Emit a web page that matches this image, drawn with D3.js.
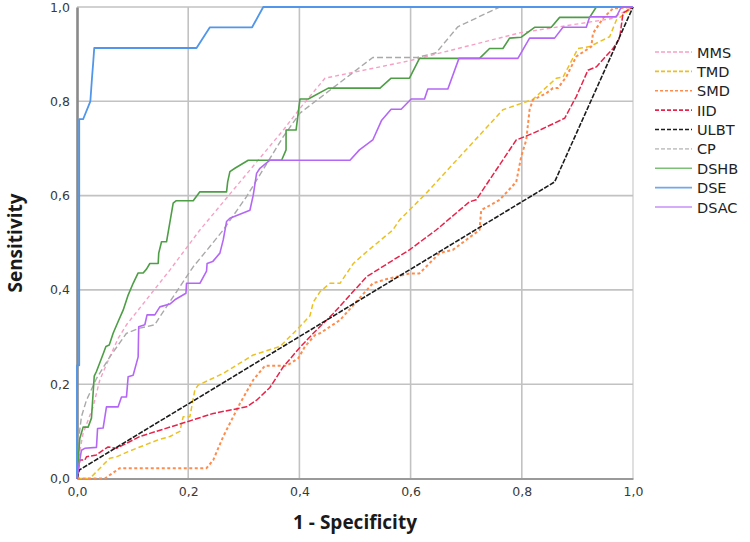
<!DOCTYPE html>
<html><head><meta charset="utf-8">
<script src="https://cdn.jsdelivr.net/npm/d3@7"></script>
<style>
html,body{margin:0;padding:0;background:#fff;}
svg{display:block;}
</style></head>
<body>
<svg id="chart" width="750" height="542"></svg>
<script>
// ---- Data (1 - Specificity, Sensitivity) ----
const seriesNames = ["MMS","TMD","SMD","IID","ULBT","CP","DSHB","DSE","DSAC"];
const xTicks = [0,0.2,0.4,0.6,0.8,1.0];
const yTicks = [0,0.2,0.4,0.6,0.8,1.0];

const MMS = [[0,0],[0.002,0.039],[0.011,0.096],[0.029,0.152],[0.041,0.209],[0.059,0.258],[0.074,0.297],[0.089,0.326],[0.167,0.442],[0.221,0.527],[0.371,0.739],[0.401,0.785],[0.446,0.849],[0.598,0.886],[0.796,0.945],[0.96,0.975],[1,1]];
const TMD = [[0,0],[0.023,0],[0.038,0.018],[0.059,0.043],[0.071,0.046],[0.092,0.057],[0.146,0.082],[0.167,0.089],[0.185,0.100],[0.191,0.131],[0.203,0.131],[0.212,0.188],[0.218,0.198],[0.263,0.223],[0.317,0.262],[0.365,0.280],[0.395,0.315],[0.419,0.345],[0.425,0.374],[0.437,0.396],[0.455,0.414],[0.473,0.414],[0.497,0.456],[0.521,0.481],[0.568,0.527],[0.580,0.548],[0.628,0.605],[0.766,0.782],[0.820,0.804],[0.862,0.849],[0.874,0.851],[0.901,0.912],[0.922,0.916],[0.958,0.937],[0.970,0.972],[1,1]];
const SMD = [[0,0],[0.050,0],[0.077,0.022],[0.233,0.022],[0.245,0.039],[0.263,0.089],[0.293,0.159],[0.317,0.209],[0.338,0.239],[0.377,0.239],[0.398,0.255],[0.410,0.280],[0.428,0.304],[0.437,0.308],[0.473,0.336],[0.532,0.414],[0.551,0.421],[0.598,0.435],[0.616,0.435],[0.652,0.478],[0.676,0.485],[0.724,0.527],[0.727,0.569],[0.760,0.591],[0.790,0.629],[0.799,0.683],[0.808,0.718],[0.814,0.782],[0.820,0.803],[0.844,0.817],[0.856,0.828],[0.865,0.828],[0.880,0.852],[0.898,0.895],[0.925,0.916],[0.928,0.944],[0.946,0.976],[0.964,0.997],[1,1]];
const IID = [[0,0],[0.005,0.039],[0.014,0.039],[0.017,0.046],[0.035,0.050],[0.047,0.060],[0.056,0.067],[0.071,0.064],[0.113,0.089],[0.197,0.120],[0.245,0.138],[0.305,0.152],[0.323,0.166],[0.347,0.193],[0.371,0.237],[0.401,0.278],[0.425,0.308],[0.461,0.350],[0.521,0.428],[0.598,0.485],[0.646,0.527],[0.706,0.587],[0.718,0.591],[0.790,0.718],[0.820,0.732],[0.877,0.764],[0.898,0.810],[0.919,0.866],[0.934,0.873],[0.964,0.912],[0.976,0.934],[0.982,0.987],[1,1]];
const ULBT = [[0,0],[0.004,0.018],[0.859,0.629],[1,1]];
const CP = [[0,0],[0.002,0.075],[0.008,0.131],[0.017,0.166],[0.035,0.212],[0.059,0.258],[0.089,0.308],[0.113,0.319],[0.140,0.326],[0.149,0.343],[0.179,0.396],[0.209,0.449],[0.239,0.492],[0.263,0.527],[0.305,0.598],[0.371,0.725],[0.401,0.775],[0.532,0.893],[0.612,0.893],[0.646,0.903],[0.685,0.958],[0.760,1.0],[1,1]];
const DSHB = [[0,0],[0.005,0.085],[0.011,0.109],[0.020,0.109],[0.026,0.128],[0.031,0.217],[0.035,0.227],[0.047,0.264],[0.052,0.280],[0.058,0.283],[0.065,0.308],[0.074,0.333],[0.083,0.357],[0.092,0.389],[0.101,0.414],[0.110,0.436],[0.119,0.436],[0.125,0.444],[0.131,0.456],[0.146,0.456],[0.147,0.478],[0.152,0.502],[0.161,0.502],[0.173,0.584],[0.178,0.589],[0.209,0.589],[0.221,0.608],[0.269,0.608],[0.271,0.629],[0.275,0.651],[0.284,0.658],[0.308,0.675],[0.368,0.675],[0.376,0.697],[0.376,0.739],[0.394,0.739],[0.401,0.805],[0.416,0.805],[0.452,0.828],[0.545,0.828],[0.565,0.849],[0.598,0.849],[0.616,0.891],[0.724,0.891],[0.742,0.912],[0.766,0.912],[0.778,0.934],[0.799,0.936],[0.823,0.957],[0.853,0.957],[0.868,0.978],[0.922,0.978],[0.934,1.0],[1,1]];
const DSE = [[0,0],[0,0.24],[0.004,0.24],[0.004,0.762],[0.011,0.762],[0.024,0.80],[0.027,0.85],[0.029,0.88],[0.031,0.913],[0.215,0.913],[0.239,0.957],[0.315,0.957],[0.335,1],[1,1]];
const DSAC = [[0,0],[0.005,0.039],[0.008,0.060],[0.014,0.064],[0.035,0.066],[0.037,0.106],[0.047,0.107],[0.053,0.152],[0.074,0.152],[0.080,0.173],[0.089,0.173],[0.092,0.216],[0.101,0.219],[0.110,0.258],[0.111,0.322],[0.122,0.326],[0.126,0.347],[0.140,0.347],[0.149,0.364],[0.167,0.370],[0.176,0.379],[0.196,0.393],[0.197,0.414],[0.221,0.414],[0.233,0.440],[0.234,0.456],[0.244,0.460],[0.257,0.478],[0.263,0.506],[0.269,0.545],[0.275,0.552],[0.311,0.569],[0.317,0.601],[0.323,0.647],[0.329,0.658],[0.347,0.675],[0.491,0.675],[0.508,0.697],[0.532,0.718],[0.548,0.760],[0.565,0.783],[0.583,0.783],[0.601,0.805],[0.625,0.805],[0.631,0.826],[0.667,0.826],[0.687,0.891],[0.793,0.891],[0.814,0.934],[0.859,0.934],[0.874,0.957],[0.916,0.957],[0.922,0.979],[0.970,0.979],[0.979,1.0],[1,1]];

const seriesData = [MMS,TMD,SMD,IID,ULBT,CP,DSHB,DSE,DSAC];
const seriesColors = ["#f7a0c4","#ecc021","#ff8c4c","#e8234a","#1c1c1c","#a9a9a9","#4e9e46","#5096ea","#b467f6"];
const seriesDash = ["4,3","5,3","3,2.5","6,2","5,1.5","6,3",null,null,null];
const seriesWidth = [1.4,1.5,2,1.5,1.6,1.4,1.6,1.8,1.6];
const legendDash = ["4,2","4,2","3,2","4,2","4,2","4,2",null,null,null];
const legendColors = ["#f7a0c4","#ecc021","#ff8c4c","#e8234a","#1c1c1c","#c8c8c8","#7cc078","#6fa8ee","#c88ff8"];

// ---- Layout ----
const svg = d3.select("#chart");
const mLeft = 77, mRight = 633, mTop = 7, mBottom = 478.5;
const x = d3.scaleLinear().domain([0,1]).range([mLeft,mRight]);
const y = d3.scaleLinear().domain([0,1]).range([mBottom,mTop]);
const fmt = d => d3.format(".1f")(d).replace(".", ",");

// gridlines
const grid = svg.append("g");
grid.selectAll("line.v").data(xTicks.slice(1)).join("line")
  .attr("x1", d=>x(d)).attr("x2", d=>x(d)).attr("y1", y(0)).attr("y2", y(1))
  .attr("stroke", d => d===1 ? "#d8d8d8" : "#c2c2c2").attr("stroke-width", 1.6);
grid.selectAll("line.h").data(yTicks.slice(1)).join("line")
  .attr("y1", d=>y(d)).attr("y2", d=>y(d)).attr("x1", x(0)).attr("x2", x(1))
  .attr("stroke", "#c2c2c2").attr("stroke-width", 1.6);

// axes
const xAxis = svg.append("g").attr("transform", `translate(0,${mBottom})`)
  .call(d3.axisBottom(x).tickValues(xTicks).tickFormat(fmt).tickSize(0).tickPadding(9));
const yAxis = svg.append("g").attr("transform", `translate(${mLeft},0)`)
  .call(d3.axisLeft(y).tickValues(yTicks).tickFormat(fmt).tickSize(0).tickPadding(7));
xAxis.select(".domain").attr("stroke","#9a9a9a").attr("stroke-width",2);
yAxis.select(".domain").attr("stroke","#8a8a8a").attr("stroke-width",2.6);
[xAxis,yAxis].forEach(a => a.selectAll("text")
  .attr("font-family","DejaVu Sans, sans-serif").attr("font-size",12.5).attr("fill","#3a3a3a"));

// curves
const line = d3.line().x(d=>x(d[0])).y(d=>y(d[1]));
const plot = svg.append("g");
seriesData.forEach((data,i) => {
  plot.append("path").datum(data)
    .attr("d", line)
    .attr("fill","none")
    .attr("stroke", seriesColors[i])
    .attr("stroke-width", seriesWidth[i])
    .attr("stroke-dasharray", seriesDash[i])
    .attr("stroke-linejoin","round");
});

// axis titles
svg.append("text").attr("x", 355).attr("y", 529).attr("text-anchor","middle")
  .attr("font-family","Open Sans, sans-serif").attr("font-weight","bold").attr("font-size",19)
  .attr("fill","#1a1a1a").text("1 - Specificity");
svg.append("text").attr("transform","translate(22,243) rotate(-90)").attr("text-anchor","middle")
  .attr("font-family","Open Sans, sans-serif").attr("font-weight","bold").attr("font-size",19)
  .attr("fill","#1a1a1a").text("Sensitivity");

// legend
const legend = svg.append("g");
const ly = d3.scaleLinear().domain([0,8]).range([52,207]);
seriesNames.forEach((name,i) => {
  legend.append("line").attr("x1",655).attr("x2",692).attr("y1",ly(i)).attr("y2",ly(i))
    .attr("stroke", legendColors[i]).attr("stroke-width",1.6)
    .attr("stroke-dasharray", legendDash[i]);
  legend.append("text").attr("x",697).attr("y",ly(i)+5.5)
    .attr("font-family","DejaVu Sans, sans-serif").attr("font-size",14.5)
    .attr("fill","#222").text(name);
});
</script>
</body></html>
